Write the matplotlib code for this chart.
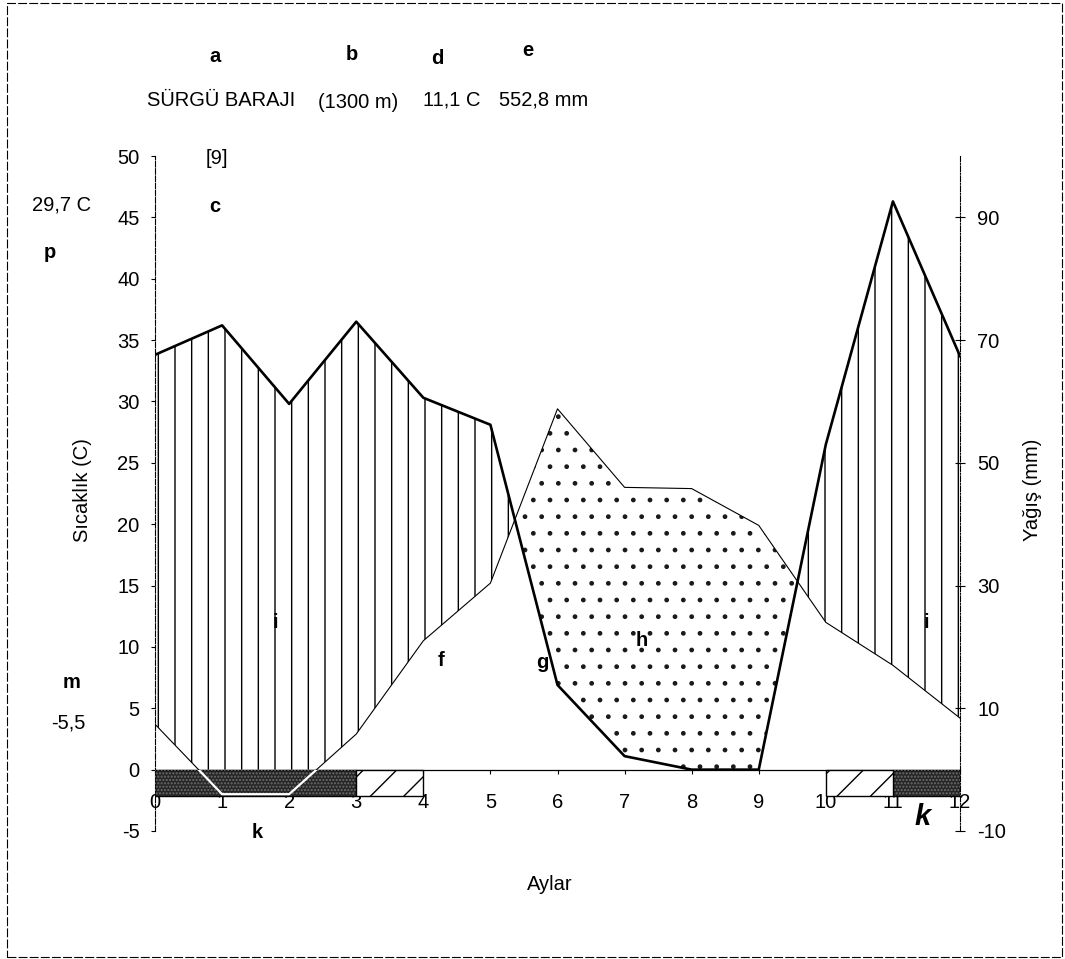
import matplotlib
matplotlib.use("Agg")
import matplotlib.pyplot as plt
import numpy as np
from matplotlib.patches import Rectangle

plt.rcParams['font.family'] = ['Liberation Sans', 'DejaVu Sans']
plt.rcParams['hatch.linewidth'] = 1.0
plt.rcParams['axes.unicode_minus'] = False

W, H = 1065, 959

# aylık değerler (0 ve 12 aynı ay)
aylar = np.arange(0, 13)
sicaklik = [3.7, -2.0, -2.0, 2.9, 10.5, 15.2, 29.4, 23.0, 22.9, 19.9, 12.0, 8.5, 4.2]
yagis = [67.6, 72.4, 59.6, 73.0, 60.6, 56.2, 13.8, 2.2, 0.0, 0.0, 53.0, 92.6, 67.4]

don_kesin = [(0, 3), (11, 12)]
don_olasi = [(3, 4), (10, 11)]

sol_ticks = np.arange(-5, 55, 5)
sag_ticks = [-10, 10, 30, 50, 70, 90]

FS = 14.5


def yaz(px, py, s, **kw):
    kw.setdefault('fontsize', FS)
    fig.text(px / W, 1 - py / H, s, ha='center', va='center', **kw)


fig = plt.figure(figsize=(W / 100, H / 100), dpi=100)
ax = fig.add_axes([155 / W, 1 - 831 / H, 805 / W, 675 / H])

# Walter-Lieth: 10 C = 20 mm
p_olcek = np.array(yagis) / 2.0
x = np.linspace(0, 12, 2401)
t = np.interp(x, aylar, sicaklik)
p = np.interp(x, aylar, p_olcek)

ax.fill_between(x, np.maximum(t, 0), p, where=p >= t, interpolate=True,
                facecolor='none', edgecolor='black', hatch='|', linewidth=0)
ax.fill_between(x, p, t, where=t >= p, interpolate=True,
                facecolor='none', edgecolor='#1a1a1a', hatch='.', linewidth=0)

ax.plot(aylar, sicaklik, color='black', lw=0.8, zorder=3)
ax.plot(aylar, p_olcek, color='black', lw=1.9, zorder=3)

for x0, x1 in don_kesin:
    r = Rectangle((x0, 0), x1 - x0, -2.15, facecolor='#262626', edgecolor='black', lw=1, zorder=4)
    ax.add_patch(r)
    ax.add_patch(Rectangle((x0, 0), x1 - x0, -2.15, facecolor='none', edgecolor='#6e6e6e',
                           hatch='.....', lw=0, zorder=4))
    ln, = ax.plot(aylar, sicaklik, color='white', lw=1.6, zorder=5)
    ln.set_clip_path(r)

for x0, x1 in don_olasi:
    ax.add_patch(Rectangle((x0, 0), x1 - x0, -2.15, facecolor='white', edgecolor='black',
                           hatch='/', lw=1, zorder=4))

ax.set_xlim(0, 12)
ax.set_ylim(-5, 50)
ax.set_xticks(aylar)
ax.set_yticks(sol_ticks)
ax.tick_params(axis='x', direction='out', length=3, pad=14, labelsize=FS)
ax.tick_params(axis='y', direction='out', length=3, pad=8, labelsize=FS)
ax.spines['top'].set_visible(False)
ax.spines['right'].set_visible(False)
ax.spines['bottom'].set_position(('data', 0))
ax.spines['bottom'].set_linewidth(0.9)
ax.spines['left'].set_linestyle((0, (5, 1.5)))
ax.spines['left'].set_linewidth(0.8)

ax2 = ax.twinx()
ax2.set_ylim(-10, 100)
ax2.set_yticks(sag_ticks)
ax2.tick_params(axis='y', direction='inout', length=7, pad=9, labelsize=FS)
for s in ['top', 'left', 'bottom']:
    ax2.spines[s].set_visible(False)
ax2.spines['right'].set_linestyle((0, (5, 1.5, 1, 1.5)))
ax2.spines['right'].set_linewidth(0.8)

# başlık ve açıklamalar
yaz(215, 57, 'a', fontweight='bold')
yaz(352, 55, 'b', fontweight='bold')
yaz(437, 58, 'd', fontweight='bold')
yaz(528, 50, 'e', fontweight='bold')
yaz(221, 100, 'SÜRGÜ BARAJI')
yaz(358, 102, '(1300 m)')
yaz(452, 100, '11,1 C')
yaz(544, 100, '552,8 mm')
yaz(217, 158, '[9]')
yaz(215, 207, 'c', fontweight='bold')
yaz(62, 205, '29,7 C')
yaz(50, 252, 'p', fontweight='bold')
yaz(72, 682, 'm', fontweight='bold')
yaz(68, 723, '-5,5')
yaz(275, 622, 'i', fontweight='bold')
yaz(926, 622, 'i', fontweight='bold')
yaz(441, 660, 'f', fontweight='bold')
yaz(542, 662, 'g', fontweight='bold')
yaz(642, 640, 'h', fontweight='bold')
yaz(257, 833, 'k', fontweight='bold')
yaz(923, 817, 'k', fontweight='bold', fontstyle='italic', fontsize=21)
yaz(82, 490, 'Sıcaklık (C)', rotation=90)
yaz(1033, 490, 'Yağış (mm)', rotation=90)
yaz(550, 885, 'Aylar')

fig.patches.append(Rectangle((7 / W, 1 - 957 / H), 1055 / W, 954 / H, transform=fig.transFigure,
                             fill=False, edgecolor='black', lw=0.8, ls=(0, (8, 2))))

fig.savefig('out.png', dpi=100)
